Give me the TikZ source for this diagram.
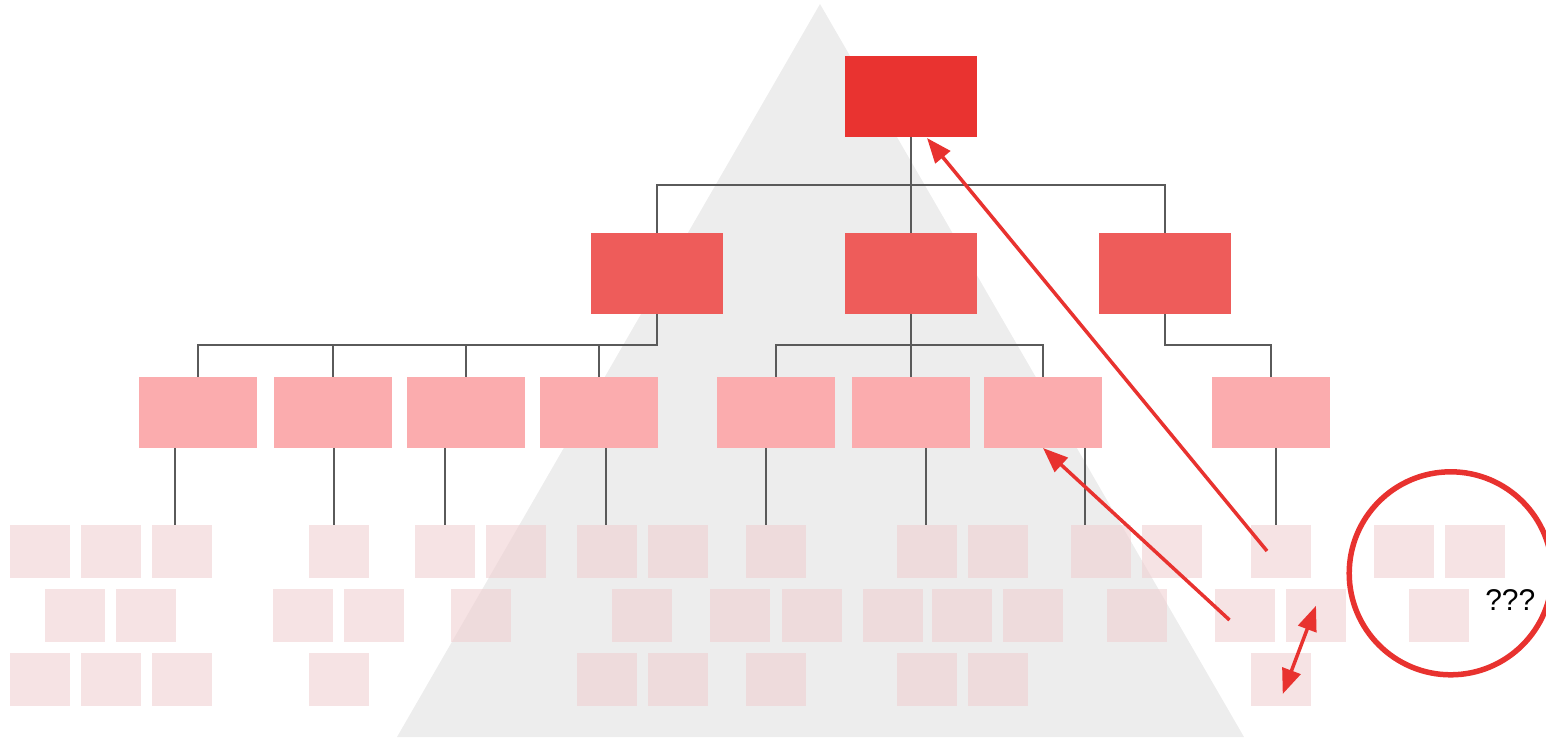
\documentclass[tikz,border=0pt]{standalone}
\usepackage{fontspec}
\setmainfont{Liberation Sans}
\usetikzlibrary{arrows.meta,shapes.geometric}
\definecolor{topred}{RGB}{233,51,48}
\definecolor{midred}{RGB}{238,92,90}
\definecolor{lowred}{RGB}{251,172,174}
\definecolor{leafc}{RGB}{240,206,208}
\definecolor{trig}{RGB}{237,237,237}
\definecolor{connc}{RGB}{90,90,90}
\definecolor{arrc}{RGB}{232,50,47}
\tikzset{
  box/.style={rectangle, inner sep=0pt, outer sep=0pt},
  boxtop/.style={box, fill=topred, minimum width=132pt, minimum height=81pt},
  boxmid/.style={box, fill=midred, minimum width=132pt, minimum height=81pt},
  boxlow/.style={box, fill=lowred, minimum width=118pt, minimum height=71pt},
  leaf/.style={box, fill=leafc, fill opacity=0.58, minimum width=60pt, minimum height=53pt},
  conn/.style={draw=connc, line width=1.7pt},
  redarrow/.style={draw=arrc, line width=3.5pt, -{Triangle[length=25pt,width=19pt]}},
  redboth/.style={draw=arrc, line width=3.5pt, {Triangle[length=25pt,width=19pt]}-{Triangle[length=25pt,width=19pt]}},
  ring/.style={circle, draw=arrc, line width=5.5pt, minimum size=203pt, inner sep=0pt},
  qtext/.style={font=\fontsize{30}{30}\selectfont, text=black, inner sep=0pt}
}
\begin{document}
\begin{tikzpicture}[x=1pt,y=-1pt]
\useasboundingbox (0,0) rectangle (1546,737);
\clip (0,0) rectangle (1546,737);
% background triangle
\fill[trig] (820,4) -- (397,737) -- (1244,737) -- cycle;

% level 0
\node[boxtop] (top) at (911,96.5) {};
% level 1
\node[boxmid] (l1a) at (657,273.5) {};
\node[boxmid] (l1b) at (911,273.5) {};
\node[boxmid] (l1c) at (1165,273.5) {};
% level 2
\node[boxlow] (l2a) at (198,412.5) {};
\node[boxlow] (l2b) at (333,412.5) {};
\node[boxlow] (l2c) at (466,412.5) {};
\node[boxlow] (l2d) at (599,412.5) {};
\node[boxlow] (l2e) at (776,412.5) {};
\node[boxlow] (l2f) at (911,412.5) {};
\node[boxlow] (l2g) at (1043,412.5) {};
\node[boxlow] (l2h) at (1271,412.5) {};

% level 3 leaves
\foreach \x [count=\i] in {10,81,152,309,415,486,577,648,746,897,968,1071,1142,1251,1374,1445}
  \node[leaf] (ra\i) at (\x+30,551.5) {};
\foreach \x [count=\i] in {45,116,273,344,451,612,710,782,863,932,1003,1107,1215,1286,1409}
  \node[leaf] (rb\i) at (\x+30,615.5) {};
\foreach \x [count=\i] in {10,81,152,309,577,648,746,897,968,1251}
  \node[leaf] (rc\i) at (\x+30,679.5) {};

% connectors level 0 -> 1
\coordinate (bus0) at (911,185);
\draw[conn] (top.south) -- (bus0);
\draw[conn] (l1a.north) |- (bus0) -| (l1c.north);
\draw[conn] (bus0) -- (l1b.north);

% connectors level 1 -> 2
\coordinate (busy) at (0,345);
\draw[conn] (l1a.south) -- (l1a.south |- busy) -| (l2a.north);
\draw[conn] (l1a.south |- busy) -| (l2b.north);
\draw[conn] (l1a.south |- busy) -| (l2c.north);
\draw[conn] (l1a.south |- busy) -| (l2d.north);
\draw[conn] (l1b.south) -- (l1b.south |- busy) -| (l2e.north);
\draw[conn] (l1b.south |- busy) -| (l2g.north);
\draw[conn] (l1b.south |- busy) -- (l2f.north);
\draw[conn] (l1c.south) -- (l1c.south |- busy) -| (l2h.north);

% connectors level 2 -> 3
\coordinate (d1) at ([xshift=-23pt]l2a.south);
\coordinate (d2) at ([xshift=1pt]l2b.south);
\coordinate (d3) at ([xshift=-21pt]l2c.south);
\coordinate (d4) at ([xshift=7pt]l2d.south);
\coordinate (d5) at ([xshift=-10pt]l2e.south);
\coordinate (d6) at ([xshift=15pt]l2f.south);
\coordinate (d7) at ([xshift=42pt]l2g.south);
\coordinate (d8) at ([xshift=5pt]l2h.south);
\draw[conn] (d1) -- (d1 |- ra3.north);
\draw[conn] (d2) -- (d2 |- ra4.north);
\draw[conn] (d3) -- (d3 |- ra5.north);
\draw[conn] (d4) -- (d4 |- ra7.north);
\draw[conn] (d5) -- (d5 |- ra9.north);
\draw[conn] (d6) -- (d6 |- ra10.north);
\draw[conn] (d7) -- (d7 |- ra12.north);
\draw[conn] (d8) -- (d8 |- ra14.north);

% red arrows
\coordinate (a1s) at (1267,551);
\coordinate (a2s) at (1229.5,620);
\coordinate (a3s) at (1316,605.7);
\coordinate (a3e) at (1282.7,694);
\draw[redarrow] (a1s) -- ([xshift=16pt,yshift=-1pt]top.south);
\draw[redarrow] (a2s) -- (l2g.south);
\draw[redboth] (a3e) -- (a3s);

% ring and question marks
\node[ring] (ring) at (1450.7,573.3) {};
\node[qtext, anchor=base] (qq) at (1510.3,610) {???};
\end{tikzpicture}
\end{document}
